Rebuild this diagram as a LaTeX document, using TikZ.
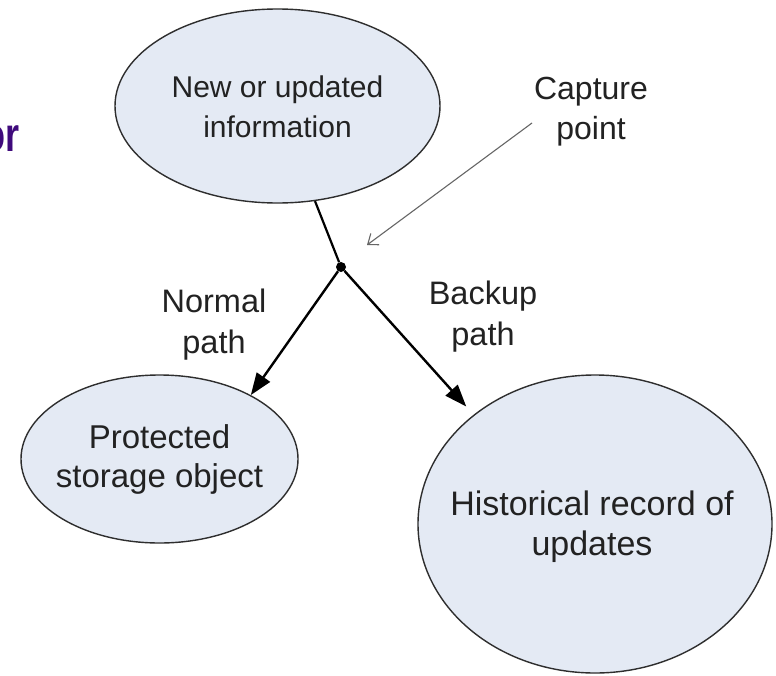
\documentclass[tikz,border=0pt]{standalone}
\usepackage{fontspec}
\setmainfont{Liberation Sans}
\usetikzlibrary{shapes.geometric,arrows.meta}
\definecolor{blobfill}{HTML}{E4EAF4}
\definecolor{blobline}{HTML}{2E2E2E}
\definecolor{inkgray}{HTML}{222222}
\definecolor{titlepurple}{HTML}{3F0A7C}
\tikzset{
  blob/.style={ellipse, draw=blobline, line width=1.4pt, fill=blobfill, inner sep=0pt},
  txt/.style={align=center, text=inkgray, inner sep=0pt},
  flow/.style={line width=2.4pt, -{Triangle[length=22pt,width=16pt]}},
  pointer/.style={draw=black!60, line width=1.1pt, -{Straight Barb[length=9pt,width=14pt]}},
  joint/.style={circle, fill=black, minimum size=10pt, inner sep=0pt}
}
\begin{document}
\begin{tikzpicture}[x=1pt,y=-1pt]
\clip (0,0) rectangle (776,675);
\fill[white] (0,0) rectangle (776,675);

% cropped title fragment
\node[anchor=east, inner sep=0pt, text=titlepurple, xscale=0.75,
      font=\fontsize{48}{50}\selectfont\bfseries] (frag) at (20,139) {or};

% ellipses
\node[blob, minimum width=325pt, minimum height=194pt] (new) at (277.5,106) {};
\node[txt, font=\fontsize{30}{40}\selectfont] (newtxt) at (277.5,107) {New or updated\\information};

\node[blob, minimum width=277pt, minimum height=168pt] (prot) at (159.5,459) {};
\node[txt, font=\fontsize{33}{39}\selectfont] (prottxt) at (159.5,459) {Protected\\storage object};

\node[blob, minimum width=354pt, minimum height=298pt] (hist) at (595,524) {};
\node[txt, font=\fontsize{34}{40}\selectfont] (histtxt) at (592,527) {Historical record of\\updates};

% junction
\node[joint] (j) at (341,267) {};

% labels
\node[txt, font=\fontsize{32.5}{41}\selectfont] (normal) at (214,325) {Normal\\path};
\node[txt, font=\fontsize{32.5}{41}\selectfont] (backup) at (483,317) {Backup\\path};
\node[txt, font=\fontsize{32}{40}\selectfont] (capture) at (591,112) {Capture\\point};

% connectors
\draw[line width=2.2pt] (new) -- (j);
\draw[flow] (j) -- (prot.35);
\draw[flow, shorten >=11pt] (j) -- (hist.138);

\coordinate (captail) at (532,123);
\coordinate (captip) at (367,245);
\draw[pointer] (captail) -- (captip);
\end{tikzpicture}
\end{document}
